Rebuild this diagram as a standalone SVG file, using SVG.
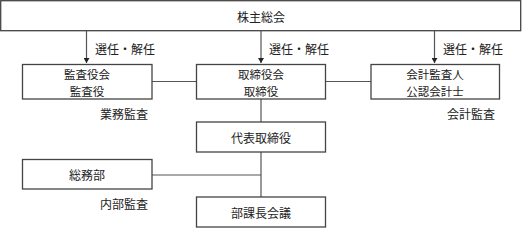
<svg xmlns="http://www.w3.org/2000/svg" width="522" height="228" viewBox="0 0 522 228">
<style>
.box{fill:#fff;stroke:#444;stroke-width:1.3}
.ln{stroke:#555;stroke-width:1.2;fill:none}
text{font-family:"Noto Sans CJK JP","Noto Sans CJK SC",sans-serif;font-size:12px;fill:#222;text-anchor:middle;dominant-baseline:central}
.lb{text-anchor:start}
.two{font-size:11.5px}
</style>
<defs>
<marker id="ah" markerWidth="6" markerHeight="6" refX="5" refY="3" orient="auto" markerUnits="userSpaceOnUse">
<path d="M0,0 L5,3 L0,6 Z" fill="#222"/>
</marker>
</defs>
<g id="connectors">
<line class="ln" x1="86.5" y1="31" x2="86.5" y2="63" marker-end="url(#ah)"/>
<line class="ln" x1="261" y1="31" x2="261" y2="63" marker-end="url(#ah)"/>
<line class="ln" x1="434.5" y1="31" x2="434.5" y2="63" marker-end="url(#ah)"/>
<line class="ln" x1="152" y1="81.5" x2="197" y2="81.5"/>
<line class="ln" x1="325" y1="81.5" x2="371" y2="81.5"/>
<line class="ln" x1="261" y1="99" x2="261" y2="197"/>
<line class="ln" x1="152" y1="175" x2="261" y2="175"/>
</g>
<g id="n-kabunushi"><rect class="box" x="0.7" y="0.7" width="520" height="30"/><text x="261" y="16">株主総会</text></g>
<g id="n-kansayaku"><rect class="box" x="22.5" y="64.5" width="129.5" height="34.5"/><text class="two" x="87" y="73.6">監査役会</text><text class="two" x="87" y="90.5">監査役</text></g>
<g id="n-torishimariyaku"><rect class="box" x="196.5" y="64.5" width="129" height="34.5"/><text class="two" x="261" y="73.6">取締役会</text><text class="two" x="261" y="90.5">取締役</text></g>
<g id="n-kaikei"><rect class="box" x="371" y="64.5" width="128.5" height="34.5"/><text class="two" x="435" y="73.6">会計監査人</text><text class="two" x="435" y="90.5">公認会計士</text></g>
<g id="n-daihyo"><rect class="box" x="196.5" y="122" width="129" height="30"/><text x="261" y="137">代表取締役</text></g>
<g id="n-somubu"><rect class="box" x="22.5" y="159.5" width="129.5" height="29.5"/><text x="87" y="174">総務部</text></g>
<g id="n-buchokaigi"><rect class="box" x="196.5" y="197" width="129" height="30"/><text x="261" y="212">部課長会議</text></g>
<g id="labels">
<text class="lb" x="95" y="48">選任・解任</text>
<text class="lb" x="269" y="48">選任・解任</text>
<text class="lb" x="443" y="48">選任・解任</text>
<text x="124" y="113">業務監査</text>
<text x="471" y="113">会計監査</text>
<text x="124" y="203">内部監査</text>
</g>
</svg>
